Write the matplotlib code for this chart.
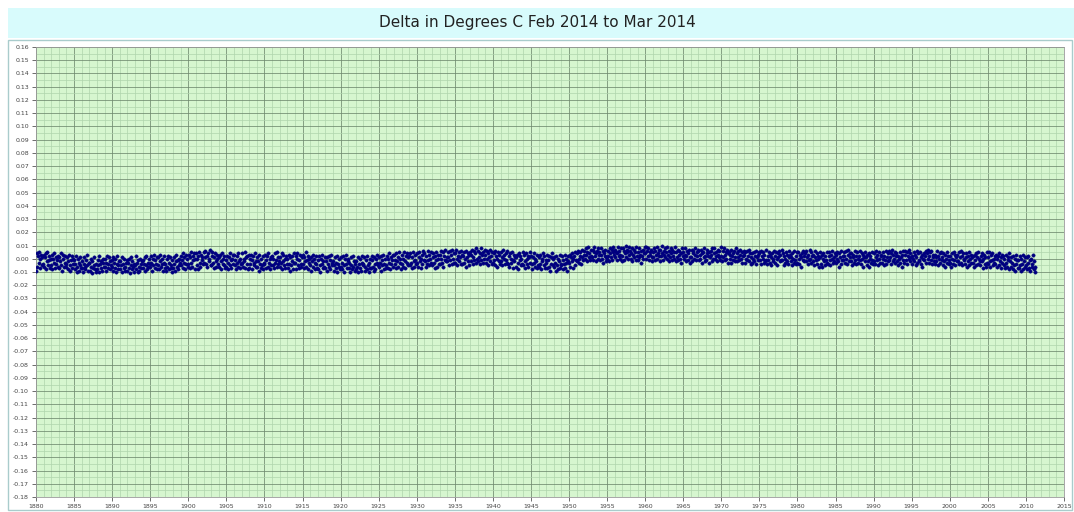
import numpy as np
import matplotlib.pyplot as plt
from matplotlib.patches import Rectangle
from matplotlib.ticker import MultipleLocator, FormatStrFormatter

# monthly delta in thousandths of a degree C, one row per year
delta_1880s = [
    [-9, 4, -6, 2, -3, 5, -7, 0, 3, -5, 1, -4],
    [3, -6, 1, -8, 4, -2, 5, -5, -1, 2, -7, 0],
    [-5, 3, -8, 0, -3, 4, -7, 1, -4, -1, 2, -6],
    [1, -7, -2, 4, -5, -9, 0, 3, -6, -3, 2, -4],
    [-6, 1, -8, -2, 3, -5, -9, -1, 2, -7, -4, 0],
    [-1, -8, -4, 2, -10, -6, 0, -3, -9, 1, -5, -7],
    [-7, -2, -10, -4, 1, -6, -8, -1, 3, -5, -9, -3],
    [-3, -9, 0, -6, -11, -2, -7, 1, -5, -8, -4, -10],
    [-8, -1, -5, -10, 2, -4, -7, -2, -9, -3, 0, -6],
    [0, -6, -9, -3, 2, -7, -4, 1, -8, -2, -5, -1],
]
delta_1890s = [
    [-6, 1, -9, -3, -7, 0, -10, -4, 2, -8, -5, -2],
    [-2, -8, -5, 1, -10, -4, -7, 0, -6, -9, -3, -1],
    [-9, -3, 0, -7, -11, -5, 1, -8, -2, -6, -10, -4],
    [-5, 2, -8, -3, -10, -1, -6, -9, 0, -4, -7, -2],
    [-1, -7, -4, 1, -9, -5, 2, -8, -3, -6, 0, -4],
    [-6, 2, -3, -9, 0, -5, 3, -7, -1, -4, -8, 1],
    [1, -5, -8, -2, 3, -6, -4, 0, -9, -3, 2, -7],
    [-4, -9, 0, -6, 2, -8, -3, 1, -7, -5, -1, -10],
    [-7, 1, -4, -9, -2, 3, -6, -1, -8, 0, -5, -3],
    [2, -5, -1, 4, -7, -3, 1, -8, 3, -4, 0, -6],
]
delta_1900s = [
    [-4, 3, -7, 1, 5, -3, -6, 2, -1, 4, -8, 0],
    [4, -5, 0, -8, 2, 5, -3, -6, 3, -1, 1, -4],
    [5, -3, 1, 6, -4, 2, -6, 4, 0, -2, 7, -5],
    [-5, 2, 5, -3, -7, 1, 4, -2, -6, 3, 0, -4],
    [1, -6, 3, -2, -8, 4, -4, 0, -5, 2, -7, -1],
    [-6, 2, -3, -8, 1, -5, 4, -1, -7, 0, -4, 3],
    [3, -5, -1, -8, 2, -3, -6, 4, -2, -7, 0, -4],
    [-3, 4, -6, 0, -2, 5, -7, 1, -4, 2, -8, 3],
    [-7, 0, -4, 3, -8, -1, 2, -5, -3, 4, -6, -2],
    [1, -6, -2, -9, 3, -4, -7, 0, -5, 2, -8, -3],
]
delta_1910s = [
    [-4, 3, -7, -1, 2, -6, 4, -3, -8, 0, -5, 1],
    [2, -5, 0, -7, 4, -3, -1, 5, -6, 1, -4, -2],
    [-6, 1, -3, 4, -8, -2, 3, -5, 0, -7, 2, -4],
    [0, -7, 3, -4, -9, 1, -5, -2, 2, -8, -3, 4],
    [-3, 2, -8, 0, 4, -5, -1, -7, 3, -4, -6, 1],
    [3, -4, -7, 1, -2, 5, -6, -1, 2, -8, 0, -3],
    [-5, 1, -9, -2, 3, -6, 0, -8, -3, 2, -4, -7],
    [-1, -8, 2, -5, -10, 0, -4, 3, -7, -2, -6, 1],
    [-7, -2, 1, -9, -4, 2, -6, -1, -8, 3, -5, -3],
    [-2, -9, -5, 1, -7, -3, 2, -10, -4, 0, -6, -8],
]
delta_1920s = [
    [-6, 1, -8, -3, 2, -5, -10, 0, -4, 3, -7, -2],
    [0, -7, -3, -10, 1, -5, -8, 2, -6, -2, -9, -4],
    [-8, -2, -6, 1, -10, -4, -7, 0, -9, -3, 2, -5],
    [-4, 1, -9, -6, -1, -8, 2, -5, -3, -10, 0, -7],
    [-7, -1, 2, -6, -9, 1, -4, -8, 0, -3, 3, -5],
    [1, -6, -3, -9, 2, -5, -1, 3, -8, -4, 0, -7],
    [-5, 2, -7, 0, -3, 4, -8, 1, -4, -1, 3, -6],
    [3, -4, -1, -7, 4, -2, 1, -6, 5, -3, 0, -8],
    [-4, 3, 0, -6, 5, -2, -7, 2, -3, 4, -5, 1],
    [2, -5, 4, -3, -7, 1, 5, -2, -6, 3, -1, -4],
]
delta_1930s = [
    [-3, 4, -6, 1, 5, -2, 0, -7, 3, -4, 6, -1],
    [4, -2, -6, 2, -4, 6, -1, 3, -5, 0, -3, 5],
    [-5, 1, 4, -3, -7, 2, -1, 5, -6, 0, 3, -4],
    [3, -4, 6, 0, -3, 5, -6, 2, -1, 7, -2, 1],
    [-2, 5, 1, -5, 6, -1, 3, -4, 7, 0, -3, 4],
    [4, -3, 7, 0, -5, 2, 5, -2, 1, 6, -4, 3],
    [-4, 2, 5, -3, 0, 6, -6, 1, -2, 4, -5, 3],
    [5, -2, 3, 7, -4, 1, 6, -1, 4, -3, 8, 0],
    [-2, 6, 1, -4, 4, 8, -1, 3, -3, 5, 0, 7],
    [3, -3, 6, 0, -5, 4, 1, 7, -2, 2, -4, 5],
]
delta_1940s = [
    [-3, 4, -1, 6, -5, 2, 0, -6, 5, -2, 3, -4],
    [5, -2, 1, -5, 7, 0, 3, -4, 4, -1, 6, -3],
    [-4, 2, -6, 4, 0, -3, 5, -1, -7, 3, -2, 1],
    [1, -6, 3, -3, -8, 4, -1, 2, -5, 0, -4, 5],
    [-5, 3, -2, -7, 4, 0, -4, 2, -6, 1, 5, -3],
    [2, -4, -8, 1, -3, 4, -6, 0, -2, -7, 3, -5],
    [-6, 1, 3, -4, -8, 0, -2, 4, -5, 2, -7, -1],
    [-3, 3, -7, -1, 2, -6, -9, 1, -4, 4, -5, 0],
    [1, -6, -3, -9, 2, -5, 0, -8, -2, 3, -7, -4],
    [-5, 2, -8, -1, -4, 3, -7, 0, -3, -9, 2, -2],
]
delta_1950s = [
    [-3, 3, -6, 1, -2, 4, -7, 0, 2, -5, 5, -1],
    [4, -2, 6, 0, -3, 5, 2, -4, 7, 1, -1, 3],
    [6, 0, 8, 3, -2, 5, 9, 1, 4, -1, 7, 2],
    [1, 7, -1, 5, 9, 2, 4, -2, 6, 8, 0, 3],
    [5, -1, 3, 8, 0, 6, -3, 4, 2, 7, -2, 1],
    [0, 6, 2, -2, 8, 4, 1, 7, -1, 5, 9, 3],
    [7, 1, 5, -1, 4, 9, 2, 6, 0, 3, 8, -2],
    [2, 8, -1, 6, 4, 10, 1, 5, 7, 0, 3, 9],
    [6, 0, 4, 8, -2, 3, 7, 1, 5, -1, 9, 2],
    [-1, 5, 8, 1, 3, -3, 6, 2, 7, 0, 4, 9],
]
delta_1960s = [
    [4, 9, 0, 6, 2, 8, -1, 5, 3, 7, 1, -2],
    [1, 5, 8, -1, 6, 3, 9, 0, 4, 7, 2, -2],
    [7, 2, 10, 4, -1, 6, 3, 8, 1, 5, 9, 0],
    [3, -2, 6, 1, 8, 4, -1, 7, 2, 5, 0, 9],
    [-2, 5, 1, 7, -1, 3, 6, 0, 4, -3, 8, 2],
    [5, 0, 3, 8, -2, 2, 6, -1, 4, 7, 1, -3],
    [1, 7, -2, 4, 6, 0, 8, 3, -1, 5, 2, 7],
    [6, -1, 3, 0, 7, 4, -3, 5, 1, 8, -2, 2],
    [-1, 4, 7, 2, -3, 5, 1, 6, 3, -2, 8, 0],
    [4, 8, 0, 5, 2, -2, 7, 3, 6, 1, -1, 9],
]
delta_1970s = [
    [2, -2, 6, 1, 8, 3, -1, 5, 0, 7, 4, -3],
    [5, 0, 3, -3, 7, 2, 4, -1, 6, 1, -2, 8],
    [-2, 4, 1, 6, -1, 3, 7, 0, 5, -3, 2, 6],
    [3, -3, 5, 0, 6, -1, 2, 7, -2, 4, 1, -4],
    [-3, 4, 0, 5, -2, 2, 6, -4, 1, 3, -1, 5],
    [4, -1, 6, -4, 2, 0, 5, -3, 3, -2, 7, -1],
    [-4, 2, -1, 5, -3, 3, -5, 1, 4, -2, 0, 6],
    [2, -3, 5, 0, -5, 4, 1, 6, -2, 3, -1, 7],
    [-1, 4, -5, 2, 0, -3, 5, -2, 3, -4, 6, 1],
    [3, -2, 1, -5, 4, 0, -3, 6, -1, 2, -4, 5],
]
delta_1980s = [
    [-3, 5, 0, -4, 3, 1, -6, 4, -1, 6, -2, 2],
    [4, -2, 6, 1, -4, 3, -1, 7, 0, -3, 5, 2],
    [-2, 3, -5, 1, 6, -1, 4, -4, 2, 0, -6, 5],
    [1, -4, 3, -6, 0, 4, -2, -5, 2, -1, 5, -3],
    [-4, 2, 5, -1, -5, 3, 0, 6, -3, 1, -2, 4],
    [3, -3, 0, 5, -2, -6, 4, 1, -4, 6, -1, 2],
    [-1, 5, 2, -3, 6, 0, -4, 3, 7, -2, 1, 4],
    [4, -2, -5, 3, 1, -3, 6, -1, 2, -4, 5, 0],
    [-3, 2, 6, -1, -4, 4, 0, -6, 3, 1, -2, 5],
    [1, -5, 3, -2, 4, -6, 0, 2, -3, 5, -1, -4],
]
delta_1990s = [
    [-2, 4, -4, 1, 6, -1, 3, -5, 0, 5, -3, 2],
    [3, -3, 5, 0, -5, 2, -1, 6, -4, 1, 4, -2],
    [-1, 6, 1, -4, 4, 7, -2, 3, 0, -3, 5, 2],
    [4, -2, -5, 2, 0, 5, -3, 1, -6, 3, -1, 6],
    [-3, 3, 6, -1, 5, -4, 2, 7, 0, -2, 4, 1],
    [2, -4, 0, 5, -2, 3, -5, 1, 6, -3, 4, -1],
    [-2, 5, -4, 1, 3, -6, 0, 4, -1, 2, -3, 6],
    [4, 0, 7, -3, 2, 5, -1, 6, -4, 3, 1, -2],
    [-4, 3, 1, -2, 6, -5, 2, 0, 4, -3, 5, -1],
    [1, -5, 4, -2, 3, -6, 0, 5, -3, 2, -4, -1],
]
delta_2000s = [
    [-3, 2, -6, 4, 0, -4, 5, -1, 3, -5, 1, -2],
    [3, -2, 5, -4, 1, 6, -3, 2, -5, 4, 0, -1],
    [-4, 1, 4, -6, 2, -2, 5, -5, 0, 3, -3, 1],
    [2, -3, -6, 3, -1, 4, -5, 1, 5, -4, 0, -2],
    [-5, 2, -2, 4, -7, 0, 3, -4, 1, -6, 5, -3],
    [1, -4, 5, -2, -6, 3, -1, 4, -5, 0, -3, 2],
    [-4, 3, -6, 0, 2, -5, 4, -2, -7, 1, -3, 3],
    [2, -5, 0, -7, 3, -3, -6, 1, -1, 4, -8, -2],
    [-6, 1, -3, -8, 2, -5, 0, -9, 3, -4, -1, -7],
    [-1, -7, 2, -5, -9, 0, -4, 3, -8, -2, -6, 1],
]
delta_2010s = [
    [-5, 1, -8, -3, 2, -7, -1, -9, 0, -4, -6, 3],
    [-8, -2, -6, -10],
]

start_year = 1880
x_ticks = list(range(1880, 2020, 5))
y_min, y_max = -0.18, 0.16

rows = (delta_1880s + delta_1890s + delta_1900s + delta_1910s + delta_1920s
        + delta_1930s + delta_1940s + delta_1950s + delta_1960s + delta_1970s
        + delta_1980s + delta_1990s + delta_2000s + delta_2010s)
years, deltas = [], []
for i, row in enumerate(rows):
    for m, v in enumerate(row):
        years.append(start_year + i + m / 12.0)
        deltas.append(v / 1000.0)
years = np.array(years)
deltas = np.array(deltas)

fig = plt.figure(figsize=(10.74, 5.12), dpi=100)
W, H = 1074, 512
# title band and chart panel, kept behind the axes
fig.patches.append(Rectangle((8 / W, 1 - 38 / H), 1 - 8 / W, 30 / H,
                             transform=fig.transFigure, facecolor='#d8fbfc',
                             edgecolor='none', zorder=-5))
fig.patches.append(Rectangle((8 / W, 1 - 510 / H), 1064 / W, 470 / H,
                             transform=fig.transFigure, facecolor='white',
                             edgecolor='#a9cccc', lw=1, zorder=-5))
fig.text(0.5, 1 - 23 / H, 'Delta in Degrees C Feb 2014 to Mar 2014',
         ha='center', va='center', fontsize=11, color='#222222')

ax = fig.add_axes([36 / W, 1 - 497 / H, 1028 / W, 450 / H])
ax.set_facecolor('#d6f6cf')
ax.scatter(years, deltas, s=6, color='#00007f', edgecolors='#00007f',
           linewidths=0.3, zorder=3)

ax.set_xlim(1880, 2014.6)
ax.set_ylim(y_min, y_max)
ax.set_xticks(x_ticks)
ax.xaxis.set_minor_locator(MultipleLocator(1))
ax.yaxis.set_major_locator(MultipleLocator(0.01))
ax.yaxis.set_minor_locator(MultipleLocator(0.005))
ax.yaxis.set_major_formatter(FormatStrFormatter('%.2f'))
ax.grid(which='major', color='#6f8a6f', lw=0.7, alpha=0.8, zorder=1)
ax.grid(which='minor', color='#afd4ac', lw=0.5, zorder=1)
ax.set_axisbelow(True)
ax.tick_params(which='major', labelsize=4.5, labelcolor='#444444',
               length=3, width=0.6, color='#555555', pad=2)
ax.tick_params(which='minor', length=0)
for sp in ax.spines.values():
    sp.set_color('#999999')
    sp.set_linewidth(0.6)

plt.savefig('out.png', dpi=100)
